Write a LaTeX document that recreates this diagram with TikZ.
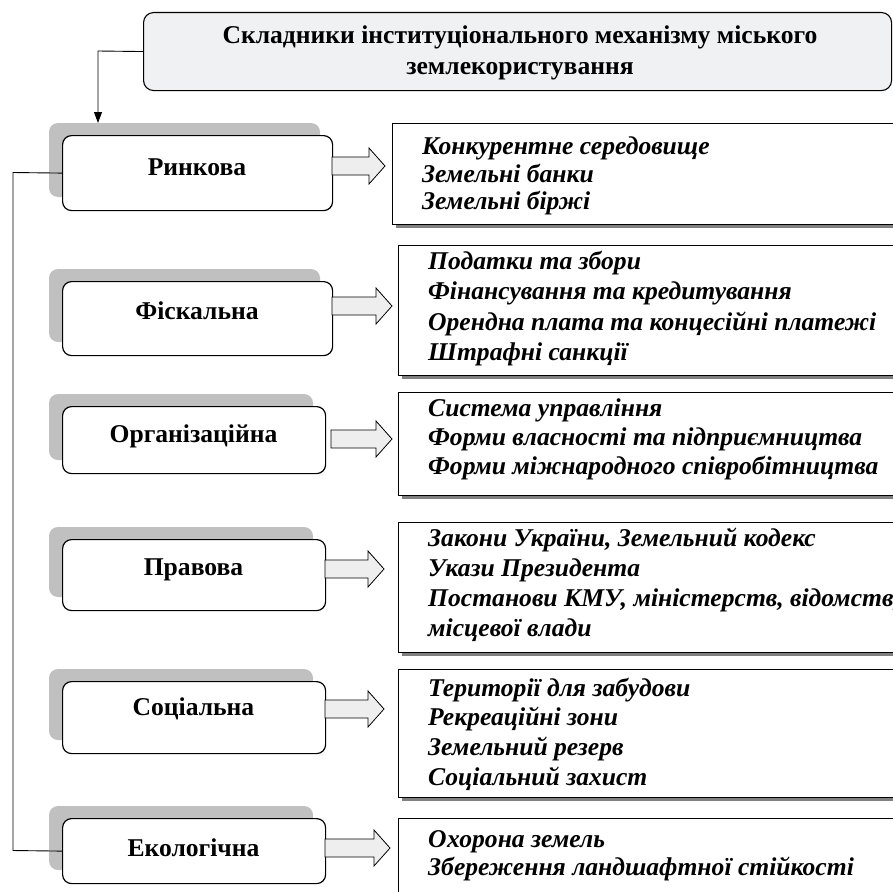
\documentclass[tikz,border=0pt]{standalone}
\usepackage{fontspec}
\setmainfont{Liberation Serif}
\usetikzlibrary{arrows.meta,calc}
\definecolor{lshadow}{HTML}{C0C0C0}
\definecolor{rshadow}{HTML}{808080}
\definecolor{arrfill}{HTML}{EEEEEE}
\definecolor{topfill}{HTML}{F0F1F3}
\tikzset{
  catbox/.style={draw=black, line width=1.2pt, fill=white, rounded corners=9pt, inner sep=0pt},
  catshadow/.style={fill=lshadow, rounded corners=9pt},
  listbox/.style={draw=black, line width=1.1pt, fill=white, inner sep=0pt},
  listshadow/.style={fill=rshadow},
  topbox/.style={draw=black, line width=1.1pt, fill=topfill, rounded corners=10pt, inner sep=0pt},
  titletext/.style={font=\fontsize{25.6}{30}\selectfont\bfseries, inner sep=0pt, anchor=mid},
  catlabel/.style={font=\fontsize{25.6}{30}\selectfont\bfseries, inner sep=0pt},
  listline/.style={font=\fontsize{25.6}{30}\selectfont\bfseries\itshape, anchor=mid west, inner sep=0pt},
  blockarrow/.style={draw=black, line width=0.8pt, fill=arrfill},
  conn/.style={draw=black, line width=0.9pt},
}
% #1 id, #2 top, #3 bottom, #4 right, #5 text y, #6 label, #7 arrow y, #8 arrow start, #9 arrow base
\newcommand{\catrow}[9]{%
  \fill[catshadow] (49,{#2-12}) rectangle ({#4-12},{#3-13});
  \node[catbox, anchor=north west, minimum width={#4-62}, minimum height={#3-#2}] (c#1) at (62,#2) {};
  \node[catlabel] (l#1) at ({(62+#4)/2},#5) {#6};
  \draw[blockarrow] (#8,{#7-9}) -- (#9,{#7-9}) -- (#9,{#7-18}) -- ({#9+16},#7)
     -- (#9,{#7+18}) -- (#9,{#7+9}) -- (#8,{#7+9}) -- cycle;
}
% #1 id, #2 left, #3 top, #4 bottom
\newcommand{\listrow}[4]{%
  \fill[listshadow] ({#2+4},{#3+4}) rectangle (930,{#4+4});
  \node[listbox, anchor=north west, minimum width={920-#2}, minimum height={#4-#3}] (r#1) at (#2,#3) {};
}
\begin{document}
\begin{tikzpicture}[x=1pt,y=-1pt]
\useasboundingbox (0,0) rectangle (893,891);
\begin{scope}
\clip (0,0) rectangle (893,891);

% title box
\node[topbox, anchor=north west, minimum width=748, minimum height=78] (top) at (143,12) {};
\node[titletext] (tt1) at (520,41) {Складники інституціонального механізму міського};
\node[titletext] (tt2) at (520,72) {землекористування};

% category boxes
\catrow{1}{135}{210}{332}{167}{Ринкова}{166}{332}{369}
\catrow{2}{281}{355}{332}{311}{Фіскальна}{306}{332}{376}
\catrow{3}{406}{473}{325}{436}{Організаційна}{439}{331}{376}
\catrow{4}{539}{610}{325}{570}{Правова}{569}{325}{368}
\catrow{5}{681}{753}{325}{709}{Соціальна}{709}{325}{368}
\catrow{6}{818}{883}{325}{848}{Екологічна}{848}{325}{374}

% list boxes
\listrow{1}{392}{123}{224}
\listrow{2}{398}{245}{375}
\listrow{3}{398}{392}{495}
\listrow{4}{398}{522}{652}
\listrow{5}{398}{669}{797}
\listrow{6}{398}{818}{930}

\node[listline] (t1a) at (422,152) {Конкурентне середовище};
\node[listline] (t1b) at (422,180) {Земельні банки};
\node[listline] (t1c) at (422,207) {Земельні біржі};

\node[listline] (t2a) at (428,267) {Податки та збори};
\node[listline] (t2b) at (428,297) {Фінансування та кредитування};
\node[listline] (t2c) at (428,328) {Орендна плата та концесійні платежі};
\node[listline] (t2d) at (428,358) {Штрафні санкції};

\node[listline] (t3a) at (428,414) {Система управління};
\node[listline] (t3b) at (428,443) {Форми власності та підприємництва};
\node[listline] (t3c) at (428,472) {Форми міжнародного співробітництва};

\node[listline] (t4a) at (428,544) {Закони України, Земельний кодекс};
\node[listline] (t4b) at (428,574) {Укази Президента};
\node[listline] (t4c) at (428,604) {Постанови КМУ, міністерств, відомств,};
\node[listline] (t4d) at (428,634) {місцевої влади};

\node[listline] (t5a) at (428,694) {Території для забудови};
\node[listline] (t5b) at (428,723) {Рекреаційні зони};
\node[listline] (t5c) at (428,753) {Земельний резерв};
\node[listline] (t5d) at (428,783) {Соціальний захист};

\node[listline] (t6a) at (428,845) {Охорона земель};
\node[listline] (t6b) at (428,873) {Збереження ландшафтної стійкості};

% connectors
\coordinate (bend) at (98,51);
\coordinate (c1tip) at (98,123);
\draw[conn, -{Triangle[length=11pt,width=8pt]}] (top.west) -- (bend) -- (c1tip);
\coordinate (busTop) at (13,172.5);
\coordinate (busBot) at (13,850.5);
\draw[conn] (c1.west) -- (busTop) -- (busBot) -- (c6.west);
\end{scope}
\end{tikzpicture}
\end{document}
